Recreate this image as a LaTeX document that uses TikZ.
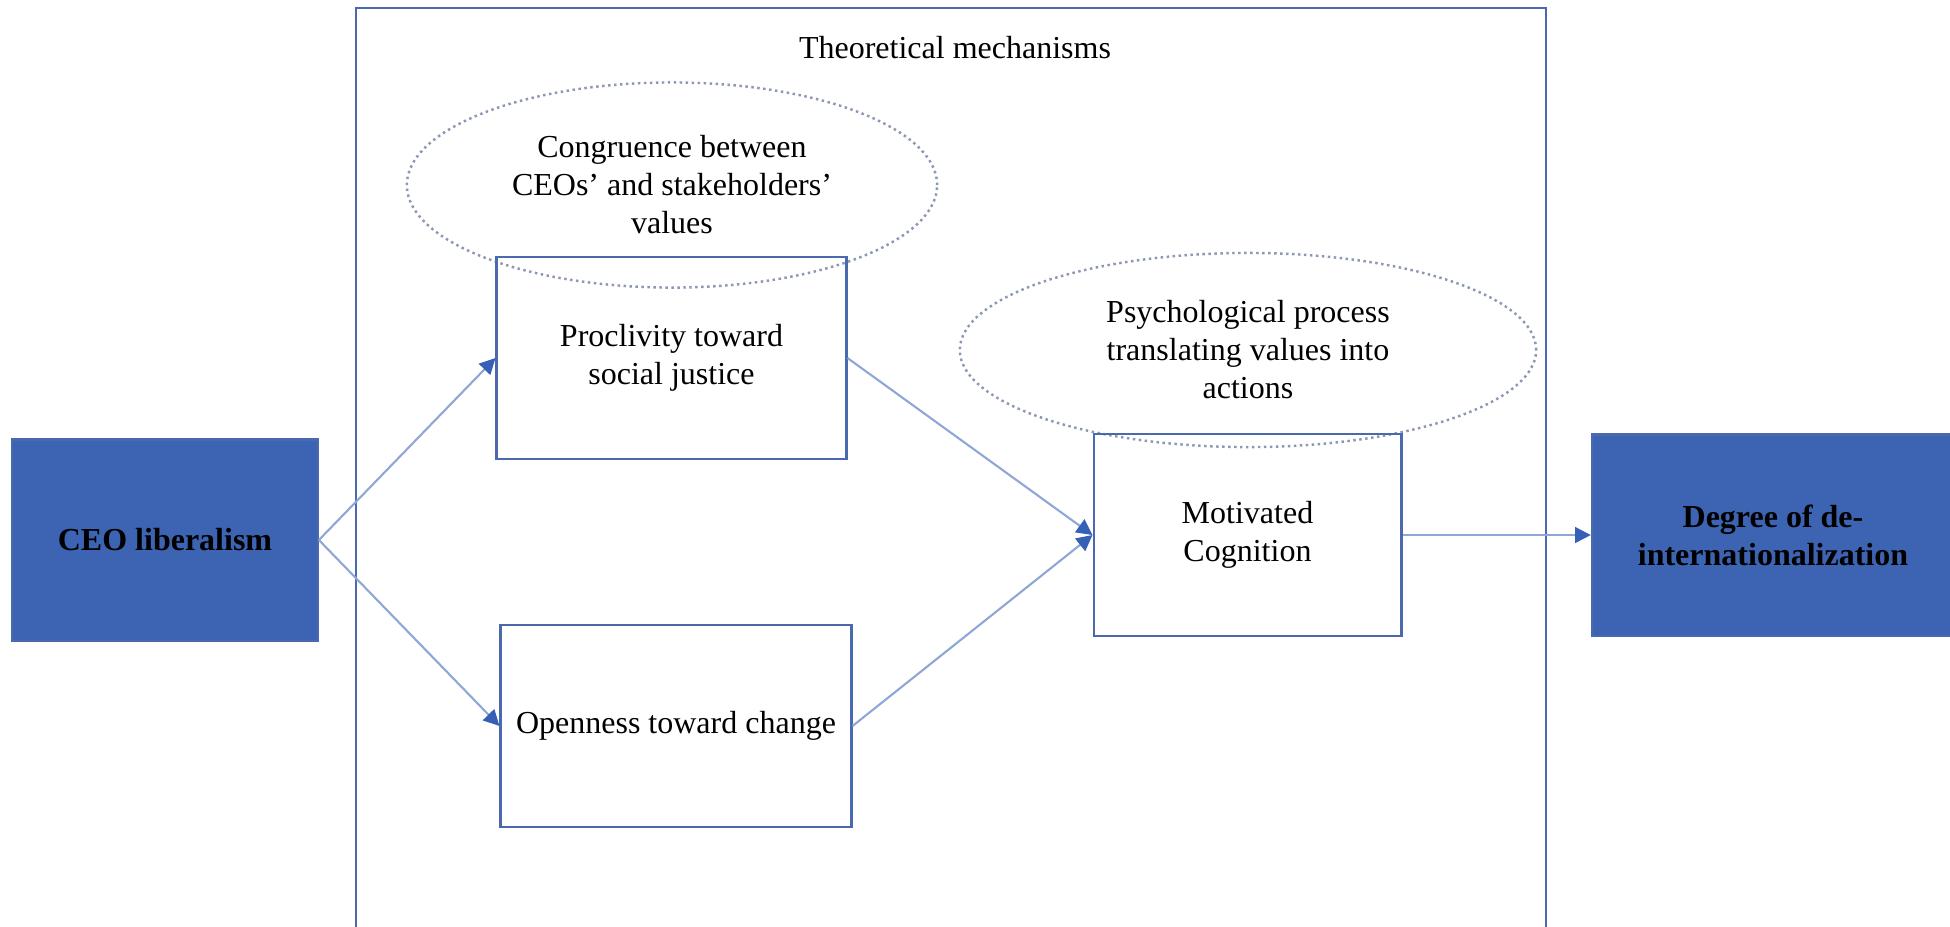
\documentclass[tikz,border=0pt]{standalone}
\usepackage{fontspec}
\setmainfont{Liberation Serif}
\usetikzlibrary{arrows.meta,shapes.geometric}
\definecolor{boxblue}{HTML}{3D64B2}
\definecolor{lineblue}{HTML}{4A69AE}
\definecolor{arrowblue}{HTML}{8FA7D6}
\definecolor{tipblue}{HTML}{3660B8}
\definecolor{dotgrey}{HTML}{8C97B3}

\begin{document}
\begin{tikzpicture}[x = 0.01cm, y = -0.01cm, font = \fontsize{9.1}{10.8}\selectfont]
\tikzstyle{outcome} = [shape = rectangle, draw = lineblue, fill = boxblue, line width = 0.6pt, minimum height = 2.01cm, align = center, font = \fontsize{9.1}{10.8}\selectfont\bfseries]
\tikzstyle{mech} = [shape = rectangle, draw = lineblue, line width = 0.8pt, minimum height = 2.02cm, align = center]
\tikzstyle{cloud} = [shape = ellipse, draw = dotgrey, densely dotted, line width = 0.7pt, inner sep = 0pt, align = center]
\tikzstyle{link} = [draw = arrowblue, line width = 0.6pt, -{Triangle[length = 4.5pt, width = 4.5pt, color = tipblue]}]
\useasboundingbox (0, 0) rectangle (1950, 926);
% frame of the mechanisms
\draw[lineblue, line width = 0.8pt] (356, 940) -- (356, 8) -- (1546, 8) -- (1546, 940);
\node (title) at (955, 48) {Theoretical mechanisms};
% ellipses
\node[cloud, minimum width = 5.3cm, minimum height = 2.05cm] (congr) at (672, 185) {Congruence between\\CEOs' and stakeholders'\\values};
\node[cloud, minimum width = 5.76cm, minimum height = 1.94cm] (psych) at (1248, 350) {Psychological process\\translating values into\\actions};
% boxes
\node[outcome, minimum width = 3.055cm] (ceo) at (165, 540) {CEO liberalism};
\node[mech, minimum width = 3.49cm] (procl) at (671.5, 358) {Proclivity toward\\social justice};
\node[mech, minimum width = 3.5cm] (open) at (676, 726) {Openness toward change};
\node[mech, minimum width = 3.07cm] (motiv) at (1247.5, 535) {Motivated\\Cognition};
\node[outcome, minimum width = 3.62cm] (degree) at (1773, 535) {Degree of de-\\internationalization};
% arrows
\draw[link] (ceo.east) -- (procl.west);
\draw[link] (ceo.east) -- (open.west);
\draw[link] (procl.east) -- (motiv.west);
\draw[link] (open.east) -- (motiv.west);
\draw[link] (motiv.east) -- (motiv.east -| degree.west);
\end{tikzpicture}
\end{document}
